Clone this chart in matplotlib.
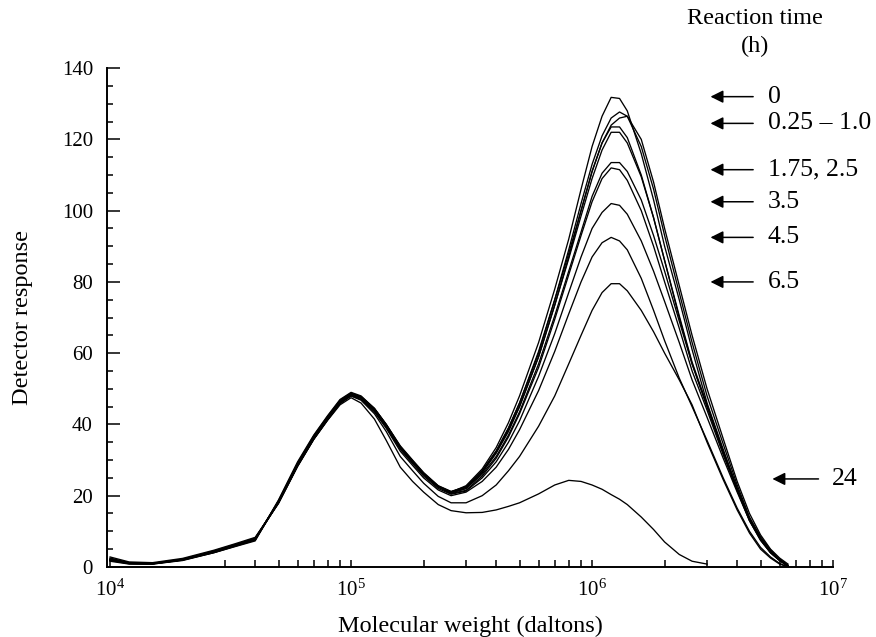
import numpy as np
import matplotlib.pyplot as plt
from matplotlib.ticker import FixedLocator, MultipleLocator, LogFormatterMathtext

plt.rcParams['font.family'] = ['Liberation Serif', 'DejaVu Serif']
plt.rcParams['mathtext.fontset'] = 'custom'
plt.rcParams['mathtext.rm'] = 'Liberation Serif'
plt.rcParams['mathtext.it'] = 'Liberation Serif:italic'

# molecular weight grid (daltons)
mw = [1.0e4, 1.2e4, 1.5e4, 2.0e4, 2.7e4, 3.3e4, 4.0e4, 5.0e4, 6.0e4, 7.0e4,
      8.0e4, 9.0e4, 1.0e5, 1.1e5, 1.25e5, 1.4e5, 1.6e5, 1.8e5, 2.0e5, 2.3e5,
      2.6e5, 3.0e5, 3.5e5, 4.0e5, 4.5e5, 5.0e5, 6.0e5, 7.0e5, 8.0e5, 9.0e5,
      1.0e6, 1.1e6, 1.2e6, 1.3e6, 1.4e6, 1.6e6, 1.8e6, 2.0e6, 2.3e6, 2.6e6,
      3.0e6, 3.5e6, 4.0e6, 4.5e6, 5.0e6, 5.5e6, 6.0e6, 6.5e6]

nan = np.nan
r_0h = [2.0, 1.0, 0.9, 2.0, 4.2, 6.0, 7.8, 18.5, 29.0, 36.5, 42.0, 46.5, 48.7, 47.5, 44.0, 39.5,
        33.5, 29.5, 26.0, 22.5, 21.0, 22.8, 27.5, 33.5, 40.5, 48.0, 63.0, 78.0, 92.0, 106.0,
        118.0, 126.5, 131.8, 131.5, 128.0, 116.0, 103.0, 90.0, 75.0, 61.0, 46.0, 33.0, 22.0,
        13.5, 8.0, 4.5, 2.0, 0.3]
r_025h = [2.5, 1.2, 1.0, 2.2, 4.5, 6.3, 8.0, 18.0, 28.5, 36.0, 41.5, 46.0, 48.5, 47.8, 44.5, 40.0,
          34.0, 30.0, 26.5, 22.8, 21.2, 22.5, 27.0, 32.5, 39.0, 46.0, 60.0, 75.0, 89.0, 102.0,
          113.0, 121.0, 126.0, 127.7, 126.5, 118.0, 106.0, 93.0, 77.0, 63.0, 48.0, 34.5, 23.0,
          14.0, 8.5, 4.8, 2.2, 0.5]
r_05h = [1.8, 0.9, 0.8, 1.8, 4.0, 5.8, 7.5, 18.8, 29.5, 37.0, 42.5, 47.0, 49.0, 48.0, 44.5, 40.0,
         33.8, 29.8, 26.3, 22.6, 21.0, 22.3, 26.5, 32.0, 38.5, 45.0, 59.0, 73.5, 87.0, 100.0,
         111.0, 119.0, 124.0, 126.0, 126.5, 120.0, 108.0, 95.0, 79.0, 65.0, 50.0, 36.0, 24.0,
         15.0, 9.0, 5.0, 2.5, 0.8]
r_075h = [2.2, 1.1, 1.0, 2.1, 4.3, 6.1, 7.9, 18.3, 28.8, 36.3, 41.8, 46.3, 48.5, 47.6, 44.2, 39.7,
          33.6, 29.6, 26.2, 22.7, 21.1, 22.5, 27.0, 32.5, 39.0, 46.0, 60.5, 75.0, 88.0, 100.0,
          111.0, 119.0, 123.5, 123.5, 120.5, 110.0, 98.0, 86.0, 70.0, 57.0, 45.0, 32.0, 21.5,
          13.0, 7.5, 4.0, 1.8, 0.3]
r_1h = [1.6, 0.8, 0.8, 1.9, 4.0, 5.7, 7.3, 18.6, 29.2, 36.8, 42.3, 46.8, 48.8, 47.8, 44.4, 39.9,
        33.7, 29.7, 26.2, 22.6, 20.9, 22.0, 26.5, 32.0, 38.0, 45.0, 59.0, 73.5, 86.5, 98.5,
        109.0, 117.0, 122.0, 122.0, 119.0, 109.5, 98.0, 86.0, 70.5, 57.5, 45.5, 32.5, 22.0,
        13.5, 8.0, 4.2, 2.0, 0.3]
r_175h = [2.8, 1.4, 1.2, 2.4, 4.7, 6.5, 8.3, 17.8, 28.2, 35.8, 41.3, 45.8, 48.2, 47.4, 44.0, 39.4,
          33.4, 29.4, 25.9, 22.4, 20.7, 22.0, 26.0, 31.0, 37.0, 43.5, 57.0, 70.5, 83.0, 94.0,
          104.0, 110.5, 113.5, 113.5, 111.0, 103.0, 93.0, 83.0, 69.0, 57.0, 45.0, 32.5, 22.0,
          13.5, 8.0, 4.2, 2.0, 0.3]
r_25h = [2.3, 1.1, 1.0, 2.1, 4.4, 6.2, 8.1, 18.2, 28.6, 36.2, 41.7, 46.2, 48.4, 47.5, 44.1, 39.6,
         33.5, 29.5, 26.0, 22.4, 20.6, 21.5, 25.5, 30.5, 36.5, 43.0, 56.0, 69.5, 82.0, 93.0,
         102.5, 109.0, 112.0, 111.5, 108.5, 100.0, 90.0, 80.0, 67.0, 55.0, 44.0, 31.5, 21.5,
         13.0, 7.8, 4.0, 1.8, 0.2]
r_35h = [1.9, 1.0, 0.9, 2.0, 4.1, 5.9, 7.6, 18.4, 28.9, 36.4, 41.9, 46.4, 48.3, 47.3, 43.8, 39.2,
         33.0, 29.0, 25.5, 22.0, 20.4, 21.3, 25.0, 29.5, 35.0, 41.0, 53.5, 65.5, 77.0, 87.0,
         95.0, 99.5, 102.0, 101.5, 99.0, 91.5, 83.0, 74.5, 63.0, 52.5, 42.0, 30.5, 21.0,
         13.0, 7.5, 4.0, 1.8, 0.2]
r_45h = [2.1, 1.0, 0.9, 2.0, 4.2, 6.0, 7.7, 18.0, 28.4, 35.9, 41.4, 45.9, 48.0, 47.0, 43.5, 38.9,
         32.5, 28.5, 25.0, 21.6, 20.0, 21.0, 24.0, 28.0, 33.0, 38.5, 49.5, 60.5, 71.0, 80.0,
         87.0, 91.0, 92.5, 91.5, 89.0, 81.0, 72.0, 63.5, 53.0, 45.0, 35.5, 25.0, 16.5,
         10.0, 5.5, 2.8, 1.0, 0.0]
r_65h = [2.0, 1.0, 0.9, 2.0, 4.2, 6.0, 7.8, 18.2, 28.5, 36.0, 41.5, 46.0, 48.0, 46.8, 43.0, 38.0,
         31.0, 27.0, 23.5, 19.8, 18.0, 18.0, 20.0, 23.0, 27.0, 31.0, 39.5, 48.0, 57.0, 65.0,
         72.0, 77.0, 79.5, 79.5, 77.5, 72.0, 66.0, 60.0, 52.5, 45.5, 35.0, 24.5, 16.0,
         9.5, 5.0, 2.5, 0.8, 0.0]
r_24h = [2.0, 1.0, 0.9, 2.0, 4.2, 6.0, 7.8, 18.0, 28.3, 35.8, 41.2, 45.5, 47.5, 46.0, 41.5, 35.5,
         28.0, 24.0, 21.0, 17.5, 15.8, 15.2, 15.3, 16.0, 17.0, 18.0, 20.5, 23.0, 24.3, 24.0,
         23.0, 21.8, 20.3, 19.0, 17.5, 14.0, 10.5, 7.0, 3.5, 1.6, 0.8, nan, nan,
         nan, nan, nan, nan, nan]

curves = [r_0h, r_025h, r_05h, r_075h, r_1h, r_175h, r_25h, r_35h, r_45h, r_65h, r_24h]

# reaction-time labels and the response level each arrow points at
arrow_labels = ['0', '0.25 \u2013 1.0', '1.75, 2.5', '3.5', '4.5', '6.5', '24']
arrow_levels = [132, 124.5, 111.5, 102.5, 92.5, 80, 24.7]

fig = plt.figure(figsize=(8.76, 6.37), dpi=100)
ax = fig.add_axes([0.122, 0.110, 0.829, 0.783])

for r in curves:
    ax.plot(mw, r, color='black', lw=0.95)

ax.set_xscale('log')
ax.set_xlim(9.7e3, 1e7)
ax.set_ylim(0, 140)

ax.spines['top'].set_visible(False)
ax.spines['right'].set_visible(False)
for s in ['left', 'bottom']:
    ax.spines[s].set_linewidth(1.4)

ax.xaxis.set_major_locator(FixedLocator([1e4, 1e5, 1e6, 1e7]))
ax.xaxis.set_major_formatter(LogFormatterMathtext())
minors = [m * 10 ** e for e in range(4, 7) for m in range(2, 10)]
minors = [v for v in minors if v != 2e4]
ax.xaxis.set_minor_locator(FixedLocator(minors))
ax.yaxis.set_major_locator(MultipleLocator(20))
ax.yaxis.set_minor_locator(MultipleLocator(5))

ax.tick_params(axis='x', which='both', direction='in', length=5, width=1.1,
               labelsize=15, pad=9)
ax.tick_params(axis='y', which='major', direction='in', length=9, width=1.1,
               labelsize=15, pad=10)
ax.tick_params(axis='y', which='minor', direction='in', length=4.5, width=1.1)

ax.set_xlabel('Molecular weight (daltons)', fontsize=17.5, labelpad=11)
ax.set_ylabel('Detector response', fontsize=17.5, labelpad=21)

for lab, lev in zip(arrow_labels, arrow_levels):
    if lab == '24':
        head, tail, tx = 5.6e6, 8.7e6, 9.9e6
    else:
        head, tail, tx = 3.1e6, 4.66e6, 5.37e6
    ax.annotate('', xy=(head, lev), xytext=(tail, lev),
                arrowprops=dict(arrowstyle='-|>', color='black', lw=1.1,
                                mutation_scale=19, shrinkA=0, shrinkB=0),
                annotation_clip=False)
    ax.text(tx, lev, lab, fontsize=18.5, ha='left', va='center', clip_on=False)

fig.text(755 / 876, 1 - 18 / 637, 'Reaction time', fontsize=17.5, ha='center', va='center')
fig.text(755 / 876, 1 - 46 / 637, '(h)', fontsize=17.5, ha='center', va='center')

fig.savefig('out.png', dpi=100)
